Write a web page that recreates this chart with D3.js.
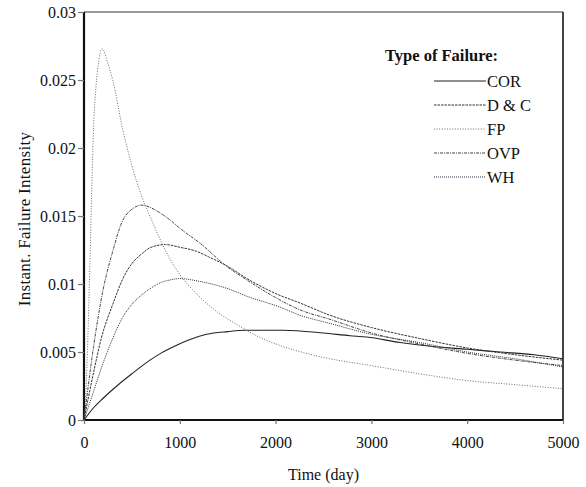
<!DOCTYPE html>
<html>
<head>
<meta charset="utf-8">
<script src="https://cdn.jsdelivr.net/npm/d3@7"></script>
<style>
  body { margin: 0; background: #fff; }
  text { font-family: "Liberation Serif", "Times New Roman", serif; }
</style>
</head>
<body>
<svg></svg>
<script>
// values: [time (day), intensity]
var corData = [[0,0],[100,0.0009],[200,0.0016],[376,0.0027],[500,0.0034],[689,0.0044],[800,0.0049],
  [967,0.0055],[1100,0.0059],[1280,0.0063],[1500,0.0065],[1680,0.0066],[2080,0.0066],[2498,0.0064],
  [2777,0.0062],[2950,0.0061],[3300,0.0057],[3645,0.0054],[4000,0.0052],[4343,0.0050],[4700,0.0048],[5000,0.0045]];
var dcData = [[0,0],[100,0.0035],[184,0.0061],[300,0.0085],[400,0.0103],[500,0.0115],[600,0.0122],
  [700,0.0127],[850,0.0129],[1000,0.0127],[1176,0.0124],[1300,0.0120],[1500,0.0113],[1700,0.0104],
  [2000,0.0093],[2255,0.0086],[2568,0.0077],[3000,0.0068],[3500,0.0060],[4000,0.0053],[4500,0.0048],[5000,0.0044]];
var fpData = [[0,0],[20,0.002],[40,0.006],[60,0.011],[80,0.0167],[100,0.0215],[125,0.0245],[150,0.0262],
  [190,0.0273],[250,0.0262],[300,0.0250],[400,0.0215],[500,0.0187],[600,0.0165],[700,0.0148],[800,0.0132],
  [900,0.0118],[1000,0.0107],[1200,0.0091],[1400,0.0079],[1600,0.0070],[1800,0.0062],[2000,0.0056],
  [2500,0.0046],[3000,0.0040],[3500,0.0034],[4000,0.0029],[4500,0.0026],[5000,0.0023]];
var ovpData = [[0,0],[100,0.0054],[200,0.0096],[300,0.0124],[393,0.0145],[500,0.0155],[605,0.0158],
  [700,0.0156],[800,0.0152],[900,0.0147],[1000,0.0141],[1211,0.0130],[1489,0.0113],[1700,0.0103],
  [2000,0.0090],[2255,0.0081],[2568,0.0074],[3000,0.0064],[3500,0.0056],[4000,0.0049],[4500,0.0044],[5000,0.0040]];
var whData = [[0,0],[100,0.0021],[200,0.0042],[306,0.0061],[400,0.0075],[500,0.0085],[619,0.0093],
  [700,0.0097],[800,0.0101],[900,0.0103],[1000,0.0104],[1200,0.0102],[1524,0.0096],[1700,0.0091],
  [2046,0.0083],[2255,0.0077],[2568,0.0071],[3000,0.0063],[3500,0.0057],[4000,0.0050],[4500,0.0045],[5000,0.0039]];

var seriesNames = ["COR", "D & C", "FP", "OVP", "WH"];
var xTicks = [0, 1000, 2000, 3000, 4000, 5000];
var yTicks = [0, 0.005, 0.01, 0.015, 0.02, 0.025, 0.03];
var yLabels = ["0", "0.005", "0.01", "0.015", "0.02", "0.025", "0.03"];

var makeChart = function(){
  var width = 586, height = 487;
  var left = 84, right = 563, top = 12, bottom = 420;

  var svg = d3.select("svg")
    .attr("width", width)
    .attr("height", height);

  var x = d3.scaleLinear().domain([0, 5000]).range([left, right]);
  var y = d3.scaleLinear().domain([0, 0.03]).range([bottom, top]);

  var series = [
    {name: seriesNames[0], data: corData, dash: null,      color: "#222", w: 1.1},
    {name: seriesNames[1], data: dcData,  dash: "2.5,1",   color: "#333", w: 1},
    {name: seriesNames[2], data: fpData,  dash: "1,1.6",   color: "#666a80", w: 1},
    {name: seriesNames[3], data: ovpData, dash: "3,1,1,1", color: "#444", w: 1},
    {name: seriesNames[4], data: whData,  dash: "1,1",     color: "#33334a", w: 1}
  ];

// frame
  svg.append("line").attr("x1", left).attr("x2", right).attr("y1", top).attr("y2", top)
     .attr("stroke", "#999").attr("stroke-width", 2);
  svg.append("line").attr("x1", right).attr("x2", right).attr("y1", top).attr("y2", bottom)
     .attr("stroke", "#444").attr("stroke-width", 2);

// axes
  var xAxis = d3.axisBottom(x).tickValues(xTicks).tickSize(4).tickPadding(13).tickFormat(d3.format("d"));
  var gx = svg.append("g").attr("transform", "translate(0," + bottom + ")").call(xAxis);
  var yAxis = d3.axisLeft(y).tickValues(yTicks).tickSize(6).tickPadding(2)
    .tickFormat(function(d, i){ return yLabels[i]; });
  var gy = svg.append("g").attr("transform", "translate(" + left + ",0)").call(yAxis);

  [gx, gy].forEach(function(g){
    g.select(".domain").attr("stroke", "#111").attr("stroke-width", 2.2);
    g.selectAll(".tick line").attr("stroke", "#777").attr("stroke-width", 1.2);
    g.selectAll(".tick text").attr("fill", "#111").style("font-size", "16px")
     .style("font-family", "'Liberation Serif', serif");
  });
  gx.select(".domain").attr("d", "M" + left + ",0H" + right);
  gy.select(".domain").attr("d", "M0," + top + "V" + bottom);

// titles
  svg.append("text").text("Time (day)")
     .attr("x", (left + right) / 2).attr("y", 480)
     .attr("text-anchor", "middle").style("font-size", "16px").attr("fill", "#111");
  svg.append("text").text("Instant. Failure Intensity")
     .attr("transform", "translate(30,219) rotate(-90)")
     .attr("text-anchor", "middle").style("font-size", "17px")
     .style("letter-spacing", "0.3px").attr("fill", "#111");

// curves
  var line = d3.line()
    .x(function(d){ return x(d[0]); })
    .y(function(d){ return y(d[1]); })
    .curve(d3.curveMonotoneX);

  svg.selectAll("path.curve")
     .data(series)
     .enter()
     .append("path")
     .attr("class", "curve")
     .attr("d", function(d){ return line(d.data); })
     .attr("fill", "none")
     .attr("stroke", function(d){ return d.color; })
     .attr("stroke-width", function(d){ return d.w; })
     .attr("stroke-dasharray", function(d){ return d.dash; });

// legend
  svg.append("text").text("Type of Failure:")
     .attr("x", 385).attr("y", 61)
     .style("font-size", "16.5px").style("font-weight", "bold").attr("fill", "#111");

  svg.selectAll("line.leg")
     .data(series)
     .enter()
     .append("line")
     .attr("class", "leg")
     .attr("x1", 434).attr("x2", 486)
     .attr("y1", function(d, i){ return 81 + i * 24; })
     .attr("y2", function(d, i){ return 81 + i * 24; })
     .attr("stroke", function(d){ return d.color; })
     .attr("stroke-width", function(d){ return d.w; })
     .attr("stroke-dasharray", function(d){ return d.dash; });

  svg.selectAll("text.leg")
     .data(series)
     .enter()
     .append("text")
     .attr("class", "leg")
     .text(function(d){ return d.name; })
     .attr("x", 487)
     .attr("y", function(d, i){ return 87 + i * 24; })
     .style("font-size", "16.5px")
     .attr("fill", "#111");
}

makeChart()
</script>
</body>
</html>
